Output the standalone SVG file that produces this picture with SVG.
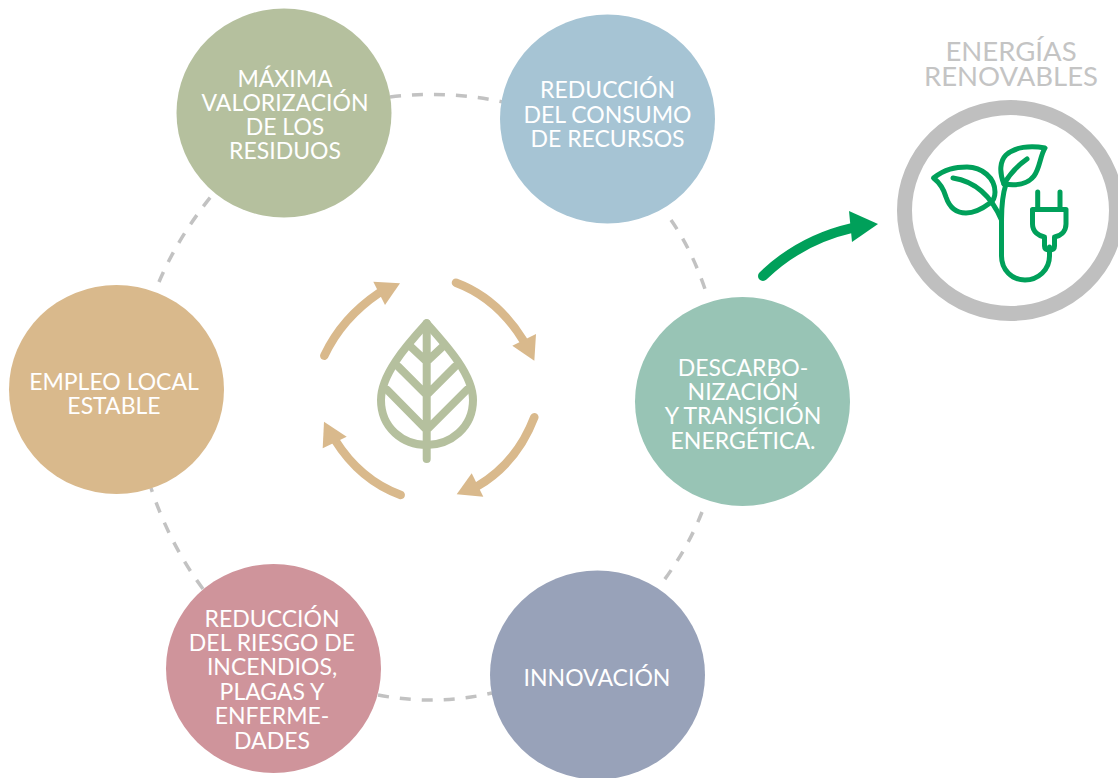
<svg xmlns="http://www.w3.org/2000/svg" width="1118" height="778" viewBox="0 0 1118 778">
<style>
text{font-family:"Lato","Open Sans","Liberation Sans",sans-serif;font-size:23px;fill:#fff;text-anchor:middle}
.dash{fill:none;stroke:#c2c2c2;stroke-width:3.5;stroke-dasharray:11 11}
.cyc{fill:none;stroke:#d9b98c;stroke-width:8.5;stroke-linecap:round}
.head{fill:#d9b98c}
.leaf{fill:none;stroke:#b5c09e;stroke-width:8;stroke-linecap:round;stroke-linejoin:round}
.plant{fill:none;stroke:#00a05a;stroke-width:5;stroke-linecap:round;stroke-linejoin:round}
text.title{fill:#c4c4c4;font-size:27.5px}
</style>
<rect width="1118" height="778" fill="#fff"/>
<g id="connectors">
<path class="dash" d="M390,97 Q448,90 503,102"/>
<path class="dash" d="M671,220 Q692,250 706,292"/>
<path class="dash" d="M702,512 Q688,548 662,583"/>
<path class="dash" d="M378,695 Q436,706 492,693"/>
<path class="dash" d="M203,589 Q170,545 151,488"/>
<path class="dash" d="M159,282 Q178,237 213,194"/>
<path d="M763,276 Q800,240 852,228" fill="none" stroke="#00a05a" stroke-width="10" stroke-linecap="round"/>
<polygon points="878,224 849,211 852,242" fill="#00a05a"/>
</g>
<g id="cycle">
<path class="cyc" d="M324.3,355.7 Q342,318 379,293"/><polygon class="head" points="400,283.3 373.3,281.7 385,305"/>
<path class="cyc" d="M456,282.7 Q497,298 523,340"/><polygon class="head" points="534.3,360.7 512.3,345.7 536,334"/>
<path class="cyc" d="M534.3,417.3 Q517,463 476.7,486.7"/><polygon class="head" points="456.7,494.3 471.7,473.3 483.3,496.7"/>
<path class="cyc" d="M400.7,495 Q360,480 335,440"/><polygon class="head" points="324,421.7 322.7,448.3 346.7,436.7"/>
</g>
<g id="leaf">
<path class="leaf" d="M426.7,323.3 C405,347 381,375 381,400 C381,428 403,445 426.7,445 C450,445 473,428 473,400 C473,375 448,347 426.7,323.3Z"/>
<path class="leaf" d="M426.7,323.3V459M387.3,390L426.7,430L466.7,390M398.3,366.7L426.7,395L455,366.7M410.7,346.7L426.7,361.7L442.7,346.7"/>
</g>
<g id="node-valorizacion"><ellipse cx="284" cy="113" rx="107.5" ry="104.5" fill="#b5c09e"/>
<text><tspan x="285" y="86.5">MÁXIMA</tspan><tspan x="285" y="110.8">VALORIZACIÓN</tspan><tspan x="285" y="135">DE LOS</tspan><tspan x="285" y="159.4">RESIDUOS</tspan></text></g>
<g id="node-recursos"><ellipse cx="607.5" cy="119" rx="107.5" ry="104.5" fill="#a6c4d4"/>
<text><tspan x="607.5" y="98">REDUCCIÓN</tspan><tspan x="607.5" y="123">DEL CONSUMO</tspan><tspan x="607.5" y="147">DE RECURSOS</tspan></text></g>
<g id="node-descarbonizacion"><ellipse cx="742.5" cy="401.5" rx="107.5" ry="104.5" fill="#98c4b5"/>
<text><tspan x="743" y="376">DESCARBO-</tspan><tspan x="743" y="400">NIZACIÓN</tspan><tspan x="743" y="424">Y TRANSICIÓN</tspan><tspan x="743" y="449">ENERGÉTICA.</tspan></text></g>
<g id="node-innovacion"><ellipse cx="597.5" cy="675" rx="107.5" ry="104.5" fill="#98a2b9"/>
<text x="597" y="686">INNOVACIÓN</text></g>
<g id="node-incendios"><ellipse cx="273.5" cy="668.5" rx="107.5" ry="104.5" fill="#cf949b"/>
<text><tspan x="272" y="627">REDUCCIÓN</tspan><tspan x="272" y="651">DEL RIESGO DE</tspan><tspan x="272" y="675">INCENDIOS,</tspan><tspan x="272" y="700">PLAGAS Y</tspan><tspan x="272" y="724">ENFERME-</tspan><tspan x="272" y="748.5">DADES</tspan></text></g>
<g id="node-empleo"><ellipse cx="116.5" cy="389.5" rx="107.5" ry="104.5" fill="#d9b98c"/>
<text><tspan x="114" y="390">EMPLEO LOCAL</tspan><tspan x="114" y="414">ESTABLE</tspan></text></g>
<g id="node-renovables">
<text class="title"><tspan x="1011" y="60.7">ENERGÍAS</tspan><tspan x="1011" y="85.7">RENOVABLES</tspan></text>
<ellipse cx="1010.5" cy="210.5" rx="106" ry="103" fill="#fff" stroke="#bfbfbf" stroke-width="15"/>
<path class="plant" d="M933.5,178 C945,169 955,167 967,167 C982,167 995,178 995,192 C995,197 993,201 990,203 C982,209 975,213 966,213 C955,213 949,206 946,197 C944,190 940,183 933.5,178Z"/>
<path class="plant" d="M953,178 C972,181 990,193 1001.5,220"/>
<path class="plant" d="M1006,184 C1003,193 1001.5,205 1001.5,220V256 C1001.5,270 1012,280 1025,280 C1038,280 1049.5,270 1049.5,256V247"/>
<path class="plant" d="M1045,148 C1030,145 1015,147 1006,155 C1000,161 999,172 1004,184 C1016,186 1028,184 1034,176 C1040,168 1040,156 1045,148Z"/>
<path class="plant" d="M1027,159 C1017,166 1009,175 1004,184"/>
<path class="plant" d="M1037.7,192V209M1060,192V209M1032.5,209.5H1066V224 C1066,232 1060,236 1054.5,237V246 C1054.5,249 1052,250 1049.5,250 C1047,250 1044.5,249 1044.5,246V237 C1039,236 1032.5,232 1032.5,224Z"/>
</g>
</svg>
